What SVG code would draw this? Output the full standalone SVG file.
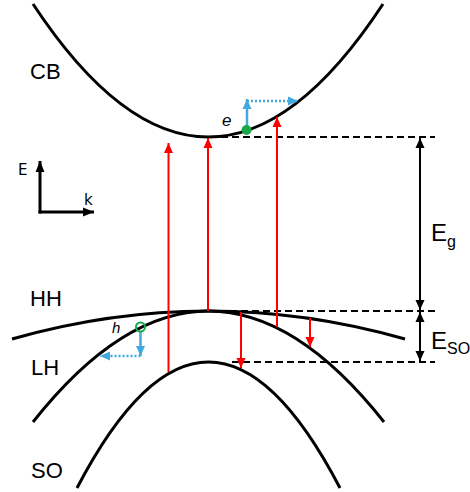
<svg xmlns="http://www.w3.org/2000/svg" width="470" height="492" viewBox="0 0 470 492">
<style>
.band{fill:none;stroke:#000;stroke-width:3}
.dash{fill:none;stroke:#000;stroke-width:2;stroke-dasharray:7 4}
.red{stroke:#f00;stroke-width:2;fill:none}
.blk{stroke:#000;stroke-width:2;fill:none}
.axis{stroke:#000;stroke-width:3;fill:none}
.blue{stroke:#41a9df;stroke-width:2.5;fill:none}
.bluedot{stroke:#41a9df;stroke-width:2.5;fill:none;stroke-dasharray:2 2}
.lbl{font-family:"Liberation Sans",Arial,sans-serif;font-size:22px;fill:#000}
.ax{font-family:"DejaVu Sans","Liberation Sans",sans-serif;font-size:15px;fill:#000}
.it{font-family:"Liberation Sans",Arial,sans-serif;font-style:italic;fill:#000}
</style>
<defs>
<marker id="ar" markerUnits="userSpaceOnUse" markerWidth="10" markerHeight="10" refX="10" refY="5" orient="auto"><path d="M0,0.5 L10,5 L0,9.5 z" fill="#f00"/></marker>
<marker id="ab" markerUnits="userSpaceOnUse" markerWidth="10" markerHeight="10" refX="10" refY="5" orient="auto-start-reverse"><path d="M0,0.5 L10,5 L0,9.5 z" fill="#000"/></marker>
<marker id="aa" markerUnits="userSpaceOnUse" markerWidth="12" markerHeight="12" refX="11" refY="6" orient="auto"><path d="M0,1.5 L11,6 L0,10.5 z" fill="#000"/></marker>
<marker id="abl" markerUnits="userSpaceOnUse" markerWidth="11" markerHeight="10" refX="10" refY="5" orient="auto"><path d="M0,0.5 L10,5 L0,9.5 z" fill="#41a9df"/></marker>
</defs>
<g id="bands">
<path id="CB" class="band" d="M33,4 Q208.5,270 383,4"/>
<path id="HH" class="band" d="M12,339 Q208.5,283 405,339"/>
<path id="LH" class="band" d="M33,422 Q208.5,200 384,422"/>
<path id="SO" class="band" d="M77,488 Q208.5,236 340,488"/>
</g>
<g id="labels">
<text class="lbl" x="30" y="79">CB</text>
<text class="lbl" x="30" y="306">HH</text>
<text class="lbl" x="31" y="375">LH</text>
<text class="lbl" x="31" y="478">SO</text>
</g>
<g id="axes">
<line class="axis" x1="40" y1="213.5" x2="40" y2="161" marker-end="url(#aa)"/>
<line class="axis" x1="38.5" y1="212" x2="94" y2="212" marker-end="url(#aa)"/>
<text class="ax" x="18" y="175">E</text>
<text class="ax" x="84" y="205">k</text>
</g>
<g id="connectors">
<line class="dash" x1="210" y1="137" x2="435" y2="137"/>
<line class="dash" x1="208" y1="311" x2="435" y2="311"/>
<line class="dash" x1="232" y1="362" x2="435" y2="362"/>
<line class="blk" x1="420" y1="138" x2="420" y2="310" marker-start="url(#ab)" marker-end="url(#ab)"/>
<line class="blk" x1="420" y1="312" x2="420" y2="361" marker-start="url(#ab)" marker-end="url(#ab)"/>
<line class="red" x1="168.5" y1="372" x2="168.5" y2="143" marker-end="url(#ar)"/>
<line class="red" x1="208" y1="311" x2="208" y2="138" marker-end="url(#ar)"/>
<line class="red" x1="277" y1="327" x2="277" y2="117" marker-end="url(#ar)"/>
<line class="red" x1="241" y1="312" x2="241" y2="368" marker-end="url(#ar)"/>
<line class="red" x1="310" y1="318" x2="310" y2="347" marker-end="url(#ar)"/>
<line class="blue" x1="247" y1="126" x2="247" y2="99" marker-end="url(#abl)"/>
<line class="bluedot" x1="247" y1="101" x2="298" y2="101" marker-end="url(#abl)"/>
<line class="blue" x1="140.5" y1="331" x2="140.5" y2="356" marker-end="url(#abl)"/>
<line class="bluedot" x1="140.5" y1="356" x2="100" y2="356" marker-end="url(#abl)"/>
</g>
<g id="carriers">
<circle id="electron" cx="246.5" cy="130" r="5" fill="#18a84a"/>
<circle id="hole" cx="140.5" cy="327" r="4.5" fill="none" stroke="#18a84a" stroke-width="2"/>
<text class="it" x="222" y="126" font-size="17">e</text>
<text class="it" x="112" y="333" font-size="15">h</text>
</g>
<g id="energy-labels">
<text class="lbl" x="431" y="241" style="font-size:24px">E<tspan style="font-size:16px" dy="6">g</tspan></text>
<text class="lbl" x="431" y="349" style="font-size:24px">E<tspan style="font-size:16px" dy="5">SO</tspan></text>
</g>
</svg>
